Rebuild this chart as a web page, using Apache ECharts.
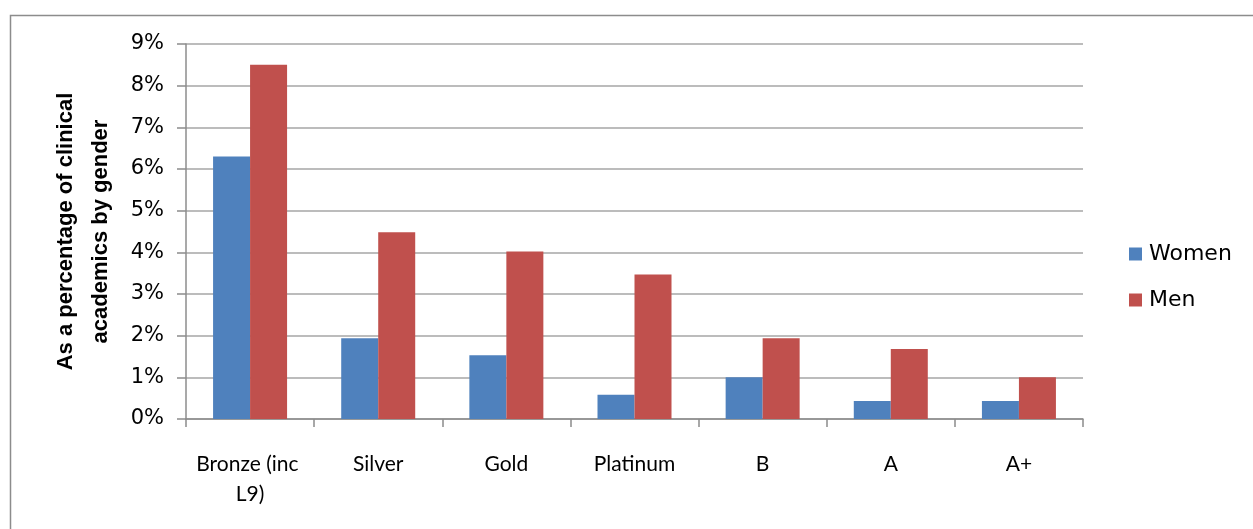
<!DOCTYPE html>
<html>
<head>
<meta charset="utf-8">
<script src="https://cdn.jsdelivr.net/npm/echarts@6/dist/echarts.min.js"></script>
<style>
  html, body { margin: 0; padding: 0; background: #fff; }
  #chart { width: 1253px; height: 529px; }
</style>
</head>
<body>
<div id="chart"></div>
<script>
// data (percent of clinical academics by gender)
const categories = ['Bronze (inc L9)', 'Silver', 'Gold', 'Platinum', 'B', 'A', 'A+']
const women = [6.3, 1.94, 1.53, 0.58, 1.0, 0.43, 0.43]
const men = [8.5, 4.48, 4.02, 3.47, 1.94, 1.68, 1.0]
const seriesNames = ['Women', 'Men']

const chart = echarts.init(document.getElementById('chart'))

const option = {
  animation: false,
  color: ['#4f81bd', '#c0504d'],
  graphic: [{
    type: 'rect',
    shape: { x: 10.5, y: 15.5, width: 1260, height: 540 },
    style: { fill: 'none', stroke: '#8c8c8c', lineWidth: 1.5 },
    silent: true
  }],
  grid: {
    left: 186,
    right: 170,
    top: 44,
    bottom: 110
  },
  legend: {
    data: seriesNames,
    orient: 'vertical',
    left: 1124,
    top: 238,
    itemWidth: 13,
    itemHeight: 13,
    itemGap: 24,
    icon: 'rect',
    selectedMode: false,
    textStyle: {
      fontFamily: 'DejaVu Sans',
      fontSize: 22,
      color: '#000',
      padding: [0, 0, 0, 2]
    }
  },
  xAxis: {
    type: 'category',
    data: categories,
    axisLine: { lineStyle: { color: '#8c8c8c', width: 1.5 } },
    axisTick: { show: true, length: 8, alignWithLabel: false, lineStyle: { color: '#8c8c8c', width: 1.5 } },
    axisLabel: {
      fontFamily: 'Lato',
      fontSize: 21,
      color: '#000',
      margin: 30,
      lineHeight: 30,
      width: 120,
      overflow: 'break',
      interval: 0
    }
  },
  yAxis: {
    type: 'value',
    min: 0,
    max: 9,
    interval: 1,
    name: 'As a percentage of clinical\nacademics by gender',
    nameLocation: 'middle',
    nameGap: 68,
    nameTextStyle: {
      fontFamily: 'Liberation Sans',
      fontWeight: 'bold',
      fontSize: 22,
      color: '#000',
      lineHeight: 35
    },
    axisLine: { show: true, lineStyle: { color: '#8c8c8c', width: 1.5 } },
    axisTick: { show: true, length: 9, lineStyle: { color: '#8c8c8c', width: 1.5 } },
    axisLabel: {
      fontFamily: 'DejaVu Sans',
      fontSize: 21,
      color: '#000',
      margin: 22,
      formatter: '{value}%'
    },
    splitLine: { lineStyle: { color: '#a6a6a6', width: 1.5 } }
  },
  series: [
    {
      name: seriesNames[0],
      type: 'bar',
      data: women,
      barWidth: 37,
      barGap: '0%'
    },
    {
      name: seriesNames[1],
      type: 'bar',
      data: men,
      barWidth: 37,
      barGap: '0%'
    }
  ]
}

chart.setOption(option)
</script>
</body>
</html>
